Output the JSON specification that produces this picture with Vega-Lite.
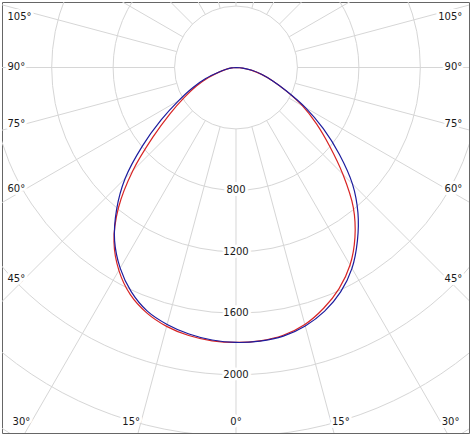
{
  "$schema": "https://vega.github.io/schema/vega-lite/v6.json",
  "width": 467,
  "height": 431,
  "autosize": "none",
  "padding": {"left": 2, "top": 2, "right": 5, "bottom": 5},
  "background": "white",
  "config": {
    "view": {"stroke": "#666666", "strokeWidth": 1},
    "text": {"font": "DejaVu Sans", "fontSize": 10}
  },
  "datasets": {
    "rings": [
      {"r": 400}, {"r": 800}, {"r": 1200}, {"r": 1600}, {"r": 2000}, {"r": 2400}, {"r": 2800}
    ],
    "ringLabels": [
      {"r": 800, "t": "800"}, {"r": 1200, "t": "1200"}, {"r": 1600, "t": "1600"}, {"r": 2000, "t": "2000"}
    ],
    "spokes": [
      {"a": 0}, {"a": 15}, {"a": 30}, {"a": 45}, {"a": 60}, {"a": 75}, {"a": 90}, {"a": 105},
      {"a": 120}, {"a": 135}, {"a": 150}, {"a": 165}, {"a": 180}, {"a": 195}, {"a": 210}, {"a": 225},
      {"a": 240}, {"a": 255}, {"a": 270}, {"a": 285}, {"a": 300}, {"a": 315}, {"a": 330}, {"a": 345}
    ],
    "angleLabels": [
      {"a": -105, "t": "105°"}, {"a": -90, "t": "90°"}, {"a": -75, "t": "75°"}, {"a": -60, "t": "60°"}, {"a": -45, "t": "45°"},
      {"a": 105, "t": "105°"}, {"a": 90, "t": "90°"}, {"a": 75, "t": "75°"}, {"a": 60, "t": "60°"}, {"a": 45, "t": "45°"},
      {"a": -30, "t": "30°"}, {"a": -15, "t": "15°"}, {"a": 0, "t": "0°"}, {"a": 15, "t": "15°"}, {"a": 30, "t": "30°"}
    ],
    "curves": [
      {"plane": "C0-C180", "a": -90, "i": 0},
      {"plane": "C0-C180", "a": -85, "i": 28},
      {"plane": "C0-C180", "a": -80, "i": 62},
      {"plane": "C0-C180", "a": -75, "i": 110},
      {"plane": "C0-C180", "a": -70, "i": 190},
      {"plane": "C0-C180", "a": -65, "i": 282},
      {"plane": "C0-C180", "a": -60, "i": 388},
      {"plane": "C0-C180", "a": -55, "i": 525},
      {"plane": "C0-C180", "a": -50, "i": 708},
      {"plane": "C0-C180", "a": -45, "i": 950},
      {"plane": "C0-C180", "a": -40, "i": 1190},
      {"plane": "C0-C180", "a": -35, "i": 1385},
      {"plane": "C0-C180", "a": -30, "i": 1525},
      {"plane": "C0-C180", "a": -25, "i": 1630},
      {"plane": "C0-C180", "a": -20, "i": 1700},
      {"plane": "C0-C180", "a": -15, "i": 1745},
      {"plane": "C0-C180", "a": -10, "i": 1772},
      {"plane": "C0-C180", "a": -5, "i": 1786},
      {"plane": "C0-C180", "a": 0, "i": 1790},
      {"plane": "C0-C180", "a": 5, "i": 1786},
      {"plane": "C0-C180", "a": 10, "i": 1770},
      {"plane": "C0-C180", "a": 15, "i": 1732},
      {"plane": "C0-C180", "a": 20, "i": 1668},
      {"plane": "C0-C180", "a": 25, "i": 1588},
      {"plane": "C0-C180", "a": 30, "i": 1485},
      {"plane": "C0-C180", "a": 35, "i": 1350},
      {"plane": "C0-C180", "a": 40, "i": 1188},
      {"plane": "C0-C180", "a": 45, "i": 985},
      {"plane": "C0-C180", "a": 50, "i": 795},
      {"plane": "C0-C180", "a": 55, "i": 640},
      {"plane": "C0-C180", "a": 60, "i": 500},
      {"plane": "C0-C180", "a": 65, "i": 360},
      {"plane": "C0-C180", "a": 70, "i": 255},
      {"plane": "C0-C180", "a": 75, "i": 172},
      {"plane": "C0-C180", "a": 80, "i": 100},
      {"plane": "C0-C180", "a": 85, "i": 42},
      {"plane": "C0-C180", "a": 90, "i": 0},
      {"plane": "C90-C270", "a": -90, "i": 0},
      {"plane": "C90-C270", "a": -85, "i": 28},
      {"plane": "C90-C270", "a": -80, "i": 64},
      {"plane": "C90-C270", "a": -75, "i": 118},
      {"plane": "C90-C270", "a": -70, "i": 210},
      {"plane": "C90-C270", "a": -65, "i": 311},
      {"plane": "C90-C270", "a": -60, "i": 431},
      {"plane": "C90-C270", "a": -55, "i": 595},
      {"plane": "C90-C270", "a": -50, "i": 796},
      {"plane": "C90-C270", "a": -45, "i": 1020},
      {"plane": "C90-C270", "a": -40, "i": 1210},
      {"plane": "C90-C270", "a": -35, "i": 1378},
      {"plane": "C90-C270", "a": -30, "i": 1508},
      {"plane": "C90-C270", "a": -25, "i": 1612},
      {"plane": "C90-C270", "a": -20, "i": 1688},
      {"plane": "C90-C270", "a": -15, "i": 1732},
      {"plane": "C90-C270", "a": -10, "i": 1762},
      {"plane": "C90-C270", "a": -5, "i": 1781},
      {"plane": "C90-C270", "a": 0, "i": 1790},
      {"plane": "C90-C270", "a": 5, "i": 1788},
      {"plane": "C90-C270", "a": 10, "i": 1776},
      {"plane": "C90-C270", "a": 15, "i": 1742},
      {"plane": "C90-C270", "a": 20, "i": 1688},
      {"plane": "C90-C270", "a": 25, "i": 1612},
      {"plane": "C90-C270", "a": 30, "i": 1510},
      {"plane": "C90-C270", "a": 35, "i": 1378},
      {"plane": "C90-C270", "a": 40, "i": 1235},
      {"plane": "C90-C270", "a": 45, "i": 1072},
      {"plane": "C90-C270", "a": 50, "i": 878},
      {"plane": "C90-C270", "a": 55, "i": 694},
      {"plane": "C90-C270", "a": 60, "i": 522},
      {"plane": "C90-C270", "a": 65, "i": 365},
      {"plane": "C90-C270", "a": 70, "i": 255},
      {"plane": "C90-C270", "a": 75, "i": 175},
      {"plane": "C90-C270", "a": 80, "i": 105},
      {"plane": "C90-C270", "a": 85, "i": 45},
      {"plane": "C90-C270", "a": 90, "i": 0}
    ]
  },
  "layer": [
    {
      "data": {"name": "rings"},
      "mark": {"type": "arc", "filled": false, "color": "#d6d6d6", "strokeWidth": 1, "theta": 0, "theta2": 6.2832, "clip": true},
      "encoding": {
        "x": {"datum": 0, "type": "quantitative", "scale": {"domain": [-1523.44, 1516.93], "nice": false, "zero": false}, "axis": null},
        "y": {"datum": 0, "type": "quantitative", "scale": {"domain": [-2379.56, 426.43], "nice": false, "zero": false}, "axis": null},
        "radius": {"field": "r", "type": "quantitative", "stack": null, "scale": {"type": "linear", "domain": [0, 1000], "range": [0, 153.6]}}
      }
    },
    {
      "data": {"name": "spokes"},
      "transform": [
        {"calculate": "datum.a * PI / 180", "as": "t"},
        {"calculate": "400 * sin(datum.t)", "as": "x0"},
        {"calculate": "-400 * cos(datum.t)", "as": "y0"},
        {"calculate": "3200 * sin(datum.t)", "as": "x1"},
        {"calculate": "-3200 * cos(datum.t)", "as": "y1"}
      ],
      "mark": {"type": "rule", "color": "#d6d6d6", "strokeWidth": 1, "clip": true},
      "encoding": {
        "x": {"field": "x0", "type": "quantitative", "scale": {"domain": [-1523.44, 1516.93], "nice": false, "zero": false}, "axis": null},
        "y": {"field": "y0", "type": "quantitative", "scale": {"domain": [-2379.56, 426.43], "nice": false, "zero": false}, "axis": null},
        "x2": {"field": "x1"},
        "y2": {"field": "y1"}
      }
    },
    {
      "data": {"name": "curves"},
      "transform": [
        {"calculate": "datum.i * sin(datum.a * PI / 180)", "as": "px"},
        {"calculate": "-datum.i * cos(datum.a * PI / 180)", "as": "py"}
      ],
      "mark": {"type": "line", "strokeWidth": 1.2, "interpolate": "catmull-rom", "clip": true},
      "encoding": {
        "x": {"field": "px", "type": "quantitative", "scale": {"domain": [-1523.44, 1516.93], "nice": false, "zero": false}, "axis": null},
        "y": {"field": "py", "type": "quantitative", "scale": {"domain": [-2379.56, 426.43], "nice": false, "zero": false}, "axis": null},
        "order": {"field": "a", "type": "quantitative"},
        "color": {"field": "plane", "type": "nominal", "scale": {"domain": ["C0-C180", "C90-C270"], "range": ["#d82424", "#1c1c9e"]}, "legend": null}
      }
    },
    {
      "data": {"name": "ringLabels"},
      "transform": [{"calculate": "-datum.r", "as": "ly"}],
      "encoding": {
        "x": {"datum": 0, "type": "quantitative", "scale": {"domain": [-1523.44, 1516.93], "nice": false, "zero": false}, "axis": null},
        "y": {"field": "ly", "type": "quantitative", "scale": {"domain": [-2379.56, 426.43], "nice": false, "zero": false}, "axis": null},
        "text": {"field": "t"}
      },
      "layer": [
        {"mark": {"type": "text", "align": "center", "baseline": "middle", "color": "white", "stroke": "white", "strokeWidth": 6, "strokeJoin": "round"}},
        {"mark": {"type": "text", "align": "center", "baseline": "middle", "color": "#1a1a1a"}}
      ]
    },
    {
      "data": {"name": "angleLabels"},
      "transform": [
        {"filter": "datum.a <= -45"},
        {"calculate": "min(327, -1374 * cos(-datum.a * PI / 180) / sin(-datum.a * PI / 180))", "as": "ly"}
      ],
      "encoding": {
        "x": {"datum": -1487.6, "type": "quantitative", "scale": {"domain": [-1523.44, 1516.93], "nice": false, "zero": false}, "axis": null},
        "y": {"field": "ly", "type": "quantitative", "scale": {"domain": [-2379.56, 426.43], "nice": false, "zero": false}, "axis": null},
        "text": {"field": "t"}
      },
      "layer": [
        {"mark": {"type": "text", "align": "left", "baseline": "middle", "color": "white", "stroke": "white", "strokeWidth": 6, "strokeJoin": "round"}},
        {"mark": {"type": "text", "align": "left", "baseline": "middle", "color": "#1a1a1a"}}
      ]
    },
    {
      "data": {"name": "angleLabels"},
      "transform": [
        {"filter": "datum.a >= 45"},
        {"calculate": "min(327, -1374 * cos(datum.a * PI / 180) / sin(datum.a * PI / 180))", "as": "ly"}
      ],
      "encoding": {
        "x": {"datum": 1473.3, "type": "quantitative", "scale": {"domain": [-1523.44, 1516.93], "nice": false, "zero": false}, "axis": null},
        "y": {"field": "ly", "type": "quantitative", "scale": {"domain": [-2379.56, 426.43], "nice": false, "zero": false}, "axis": null},
        "text": {"field": "t"}
      },
      "layer": [
        {"mark": {"type": "text", "align": "right", "baseline": "middle", "color": "white", "stroke": "white", "strokeWidth": 6, "strokeJoin": "round"}},
        {"mark": {"type": "text", "align": "right", "baseline": "middle", "color": "#1a1a1a"}}
      ]
    },
    {
      "data": {"name": "angleLabels"},
      "transform": [
        {"filter": "datum.a < 0 && datum.a > -45"},
        {"calculate": "2308 * tan(datum.a * PI / 180)", "as": "lx"}
      ],
      "encoding": {
        "x": {"field": "lx", "type": "quantitative", "scale": {"domain": [-1523.44, 1516.93], "nice": false, "zero": false}, "axis": null},
        "y": {"datum": -2308, "type": "quantitative", "scale": {"domain": [-2379.56, 426.43], "nice": false, "zero": false}, "axis": null},
        "text": {"field": "t"}
      },
      "layer": [
        {"mark": {"type": "text", "align": "right", "baseline": "middle", "dx": -1, "color": "white", "stroke": "white", "strokeWidth": 6, "strokeJoin": "round"}},
        {"mark": {"type": "text", "align": "right", "baseline": "middle", "dx": -1, "color": "#1a1a1a"}}
      ]
    },
    {
      "data": {"name": "angleLabels"},
      "transform": [{"filter": "datum.a == 0"}],
      "encoding": {
        "x": {"datum": 0, "type": "quantitative", "scale": {"domain": [-1523.44, 1516.93], "nice": false, "zero": false}, "axis": null},
        "y": {"datum": -2308, "type": "quantitative", "scale": {"domain": [-2379.56, 426.43], "nice": false, "zero": false}, "axis": null},
        "text": {"field": "t"}
      },
      "layer": [
        {"mark": {"type": "text", "align": "center", "baseline": "middle", "color": "white", "stroke": "white", "strokeWidth": 6, "strokeJoin": "round"}},
        {"mark": {"type": "text", "align": "center", "baseline": "middle", "color": "#1a1a1a"}}
      ]
    },
    {
      "data": {"name": "angleLabels"},
      "transform": [
        {"filter": "datum.a > 0 && datum.a < 45"},
        {"calculate": "2308 * tan(datum.a * PI / 180)", "as": "lx"}
      ],
      "encoding": {
        "x": {"field": "lx", "type": "quantitative", "scale": {"domain": [-1523.44, 1516.93], "nice": false, "zero": false}, "axis": null},
        "y": {"datum": -2308, "type": "quantitative", "scale": {"domain": [-2379.56, 426.43], "nice": false, "zero": false}, "axis": null},
        "text": {"field": "t"}
      },
      "layer": [
        {"mark": {"type": "text", "align": "left", "baseline": "middle", "dx": 1, "color": "white", "stroke": "white", "strokeWidth": 6, "strokeJoin": "round"}},
        {"mark": {"type": "text", "align": "left", "baseline": "middle", "dx": 1, "color": "#1a1a1a"}}
      ]
    }
  ]
}
